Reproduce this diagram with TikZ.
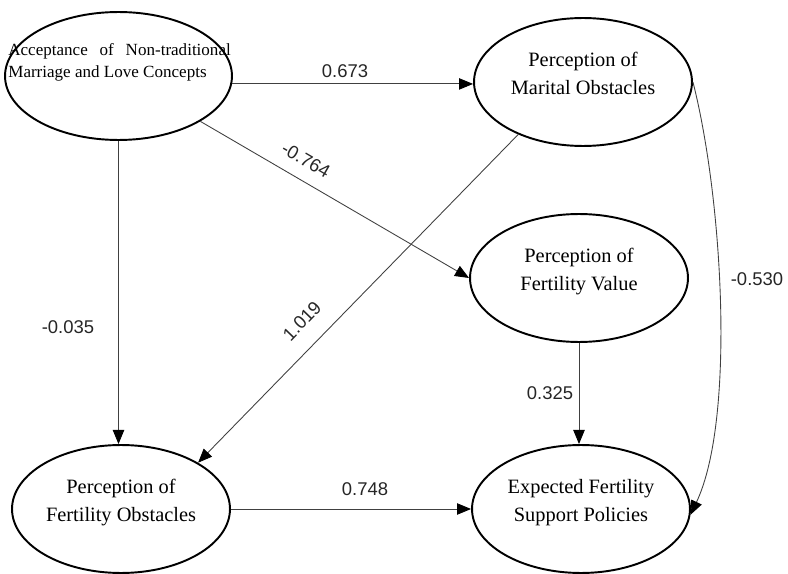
\documentclass[tikz,border=0pt]{standalone}
\usepackage{fontspec}
\setmainfont{Liberation Serif}
\setsansfont{Liberation Sans}
\usetikzlibrary{arrows.meta,positioning,shapes.geometric}

\begin{document}
\begin{tikzpicture}[x=0.02cm, y=-0.02cm,
    latent/.style={draw, ellipse, line width=1.1pt, inner sep=0pt, minimum width=4.36cm,
                   minimum height=2.56cm, font=\fontsize{11.6}{16}\selectfont, align=center,
                   text depth=9.5pt},
    effect/.style={-{Triangle[length=8pt,width=6.5pt,color=black]}, line width=0.5pt, black!75},
    coef/.style={font=\sffamily\fontsize{10.5}{12}\selectfont, text=black!85},
]
\useasboundingbox (0,0) rectangle (788,574);

\node[latent, minimum width=4.54cm] (accept) at (118.5,76) {};
\node[font=\fontsize{9.7}{12.5}\selectfont, align=left, anchor=west, inner sep=0pt] (accepttxt) at (8,62)
    {\makebox[4.45cm][s]{Acceptance of Non-traditional}\\Marriage and Love Concepts};
\node[latent] (marital) at (583,82) {Perception of\\Marital Obstacles};
\node[latent] (value) at (579,278) {Perception of\\Fertility Value};
\node[latent] (obstacle) at (121,509) {Perception of\\Fertility Obstacles};
\node[latent] (policy) at (581,509) {Expected Fertility\\Support Policies};

\draw[effect] (accept.-4) -- (accept.-4 -| marital.west);
\draw[effect] (accept.south) -- (accept.south |- obstacle.north);
\draw[effect] (accept.-29) -- (value.west);
\draw[effect] (marital.-141) -- (obstacle.31);
\draw[effect] (value.south) -- (value.south |- policy.north);
\draw[effect] (obstacle.east) -- (obstacle.east -| policy.west);
\draw[effect] (marital.east) .. controls +(30,118) and +(45,-95) .. (policy.-3);

\node[coef] (b1) at (345,71) {0.673};
\node[coef, rotate=-30] (b2) at (306,160) {-0.764};
\node[coef] (b3) at (68,327) {-0.035};
\node[coef, rotate=46] (b4) at (302,321) {1.019};
\node[coef] (b5) at (550,393) {0.325};
\node[coef] (b6) at (365,489) {0.748};
\node[coef] (b7) at (757,279) {-0.530};
\end{tikzpicture}
\end{document}
